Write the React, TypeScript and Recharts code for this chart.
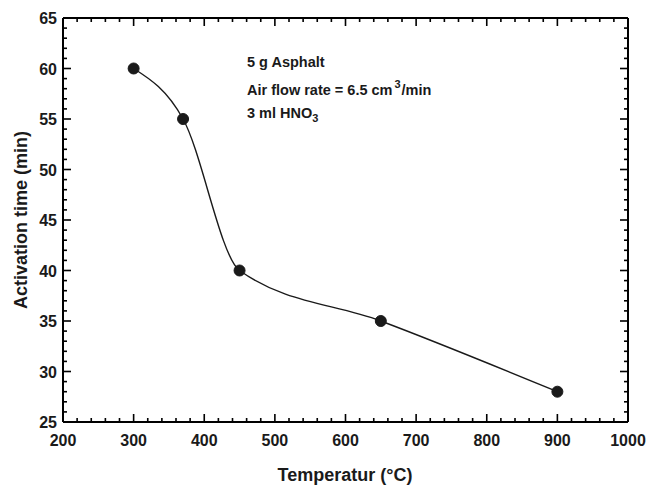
import { LineChart, Line, XAxis, YAxis, ReferenceLine } from "recharts";

// measured data points (°C, min)
const temperature = [300, 370, 450, 650, 900];
const activationTime = [60, 55, 40, 35, 28];

const xMajorTicks = [200, 300, 400, 500, 600, 700, 800, 900, 1000];
const yMajorTicks = [25, 30, 35, 40, 45, 50, 55, 60, 65];

const data = temperature.map((t, i) => ({ t, time: activationTime[i] }));

// four minor ticks between each pair of majors
const xTicks: number[] = [];
for (let v = 200; v <= 1000; v += 20) xTicks.push(v);
const yTicks: number[] = [];
for (let v = 25; v <= 65; v += 1) yTicks.push(v);

const W = 655;
const H = 487;
const PLOT = { left: 63, right: 628, top: 18, bottom: 422 };
const INK = "#1a1a1a";
const FONT = "'Liberation Sans', Arial, Helvetica, sans-serif";
const TW = 1.6; // tick thickness

// ticks point inwards on all four sides of the frame (drawn as thin rects)
const renderBottomTick = (props: any) => {
  const { x, y, payload } = props;
  const len = xMajorTicks.includes(payload.value) ? 8 : 4;
  return (
    <g key={`b-${payload.value}`}>
      <rect x={x - TW / 2} y={PLOT.bottom - len} width={TW} height={len} fill="#000" />
      <rect x={x - TW / 2} y={PLOT.top} width={TW} height={len} fill="#000" />
      {len === 8 && (
        <text x={x} y={y + 16} textAnchor="middle" fontSize={16} fontWeight={700} fill={INK} fontFamily={FONT}>
          {payload.value}
        </text>
      )}
    </g>
  );
};

const renderLeftTick = (props: any) => {
  const { x, y, payload } = props;
  const len = yMajorTicks.includes(payload.value) ? 8 : 4;
  return (
    <g key={`l-${payload.value}`}>
      <rect x={PLOT.left} y={y - TW / 2} width={len} height={TW} fill="#000" />
      <rect x={PLOT.right - len} y={y - TW / 2} width={len} height={TW} fill="#000" />
      {len === 8 && (
        <text x={x + 2} y={y + 6} textAnchor="end" fontSize={16} fontWeight={700} fill={INK} fontFamily={FONT}>
          {payload.value}
        </text>
      )}
    </g>
  );
};

export default function App() {
  return (
    <div style={{ position: "absolute", left: 0, top: 0, width: W, height: H, background: "#fff" }}>
      <LineChart width={W} height={H} data={data} margin={{ top: PLOT.top, right: W - PLOT.right, bottom: 0, left: 0 }}>
        <XAxis
          dataKey="t"
          type="number"
          domain={[200, 1000]}
          ticks={xTicks}
          interval={0}
          height={H - PLOT.bottom}
          tickLine={false}
          axisLine={{ stroke: "#000", strokeWidth: 2 }}
          tick={renderBottomTick}
        />
        <YAxis
          type="number"
          domain={[25, 65]}
          ticks={yTicks}
          interval={0}
          width={PLOT.left}
          tickLine={false}
          axisLine={{ stroke: "#000", strokeWidth: 2 }}
          tick={renderLeftTick}
        />
        <ReferenceLine y={65} stroke="#000" strokeWidth={2} />
        <ReferenceLine x={1000} stroke="#000" strokeWidth={2} />
        <Line
          type="monotone"
          dataKey="time"
          stroke={INK}
          strokeWidth={1.4}
          dot={{ r: 5.5, fill: INK, stroke: INK, strokeWidth: 1 }}
          activeDot={false}
          isAnimationActive={false}
        />
      </LineChart>
      <svg width={W} height={H} style={{ position: "absolute", left: 0, top: 0, pointerEvents: "none" }}>
        <g fontFamily={FONT} fontWeight="bold" fill={INK}>
          <text x={247} y={67} fontSize={14.5}>5 g Asphalt</text>
          <text x={247} y={95} fontSize={14.5}>
            Air flow rate = 6.5 cm
            <tspan dy={-7} dx={2} fontSize={11}>3</tspan>
            <tspan dy={7} dx={1}>/min</tspan>
          </text>
          <text x={247} y={118} fontSize={14.5}>
            3 ml HNO
            <tspan dy={4} fontSize={11}>3</tspan>
          </text>
          <text x={345} y={481} textAnchor="middle" fontSize={18}>Temperatur (°C)</text>
          <text x={27} y={220} textAnchor="middle" fontSize={18} transform="rotate(-90 27 220)">
            Activation time (min)
          </text>
        </g>
      </svg>
    </div>
  );
}
